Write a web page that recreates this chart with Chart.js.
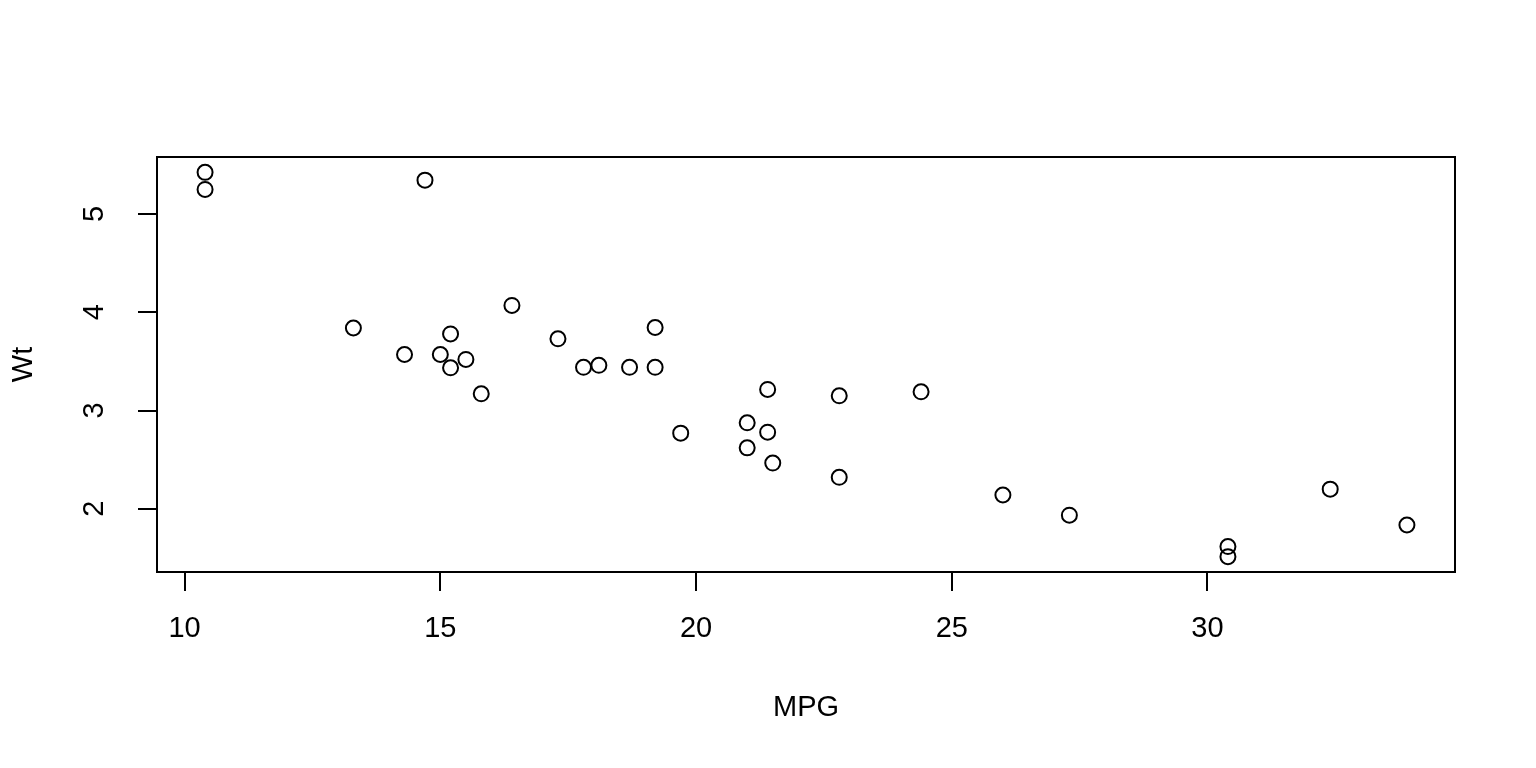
<!DOCTYPE html>
<html>
<head>
<meta charset="utf-8">
<script src="https://cdn.jsdelivr.net/npm/chart.js@4/dist/chart.umd.min.js"></script>
<style>
html, body { margin: 0; padding: 0; background: #fff; }
#wrap { width: 1536px; height: 768px; }
</style>
</head>
<body>
<div id="wrap"><canvas id="c" width="1536" height="768"></canvas></div>
<script>
// mtcars: mpg vs wt
const mpg = [21.0, 21.0, 22.8, 21.4, 18.7, 18.1, 14.3, 24.4, 22.8, 19.2, 17.8, 16.4, 17.3, 15.2, 10.4, 10.4,
             14.7, 32.4, 30.4, 33.9, 21.5, 15.5, 15.2, 13.3, 19.2, 27.3, 26.0, 30.4, 15.8, 19.7, 15.0, 21.4];
const wt = [2.620, 2.875, 2.320, 3.215, 3.440, 3.460, 3.570, 3.190, 3.150, 3.440, 3.440, 4.070, 3.730, 3.780, 5.250, 5.424,
            5.345, 2.200, 1.615, 1.835, 2.465, 3.520, 3.435, 3.840, 3.845, 1.935, 2.140, 1.513, 3.170, 2.770, 3.570, 2.780];
const xTicks = [10, 15, 20, 25, 30];
const yTicks = [2, 3, 4, 5];
const xLabel = "MPG";
const yLabel = "Wt";

// R style axis range: data range stretched 4% each side
function rRange(v) {
  const lo = Math.min(...v), hi = Math.max(...v);
  const d = (hi - lo) * 0.04;
  return [lo - d, hi + d];
}
const xr = rRange(mpg);
const yr = rRange(wt);

const points = mpg.map((m, i) => ({ x: m, y: wt[i] }));
const FONT = "'Liberation Sans', Arial, Helvetica, sans-serif";

// box round the plot + rotated y tick labels
const rBox = {
  id: 'rBox',
  afterDraw(chart) {
    const ctx = chart.ctx;
    const a = chart.chartArea;
    ctx.save();
    ctx.strokeStyle = '#000';
    ctx.lineWidth = 2;
    ctx.strokeRect(a.left, a.top, a.right - a.left, a.bottom - a.top);
    const ys = chart.scales.y;
    ctx.fillStyle = '#000';
    ctx.font = '29px ' + FONT;
    ctx.textAlign = 'center';
    ctx.textBaseline = 'alphabetic';
    ys.ticks.forEach(t => {
      const py = ys.getPixelForValue(t.value);
      ctx.save();
      ctx.translate(103, py);
      ctx.rotate(-Math.PI / 2);
      ctx.fillText(String(t.value), 0, 0);
      ctx.restore();
    });
    ctx.restore();
  }
};

new Chart(document.getElementById('c'), {
  type: 'scatter',
  data: {
    datasets: [{
      data: points,
      pointStyle: 'circle',
      pointRadius: 7.5,
      pointHoverRadius: 7.5,
      borderWidth: 2,
      borderColor: '#000',
      backgroundColor: 'rgba(0,0,0,0)'
    }]
  },
  options: {
    responsive: false,
    devicePixelRatio: 1,
    animation: false,
    layout: { padding: { top: 157, right: 81, left: 0, bottom: 0 } },
    plugins: { legend: { display: false }, tooltip: { enabled: false } },
    scales: {
      x: {
        type: 'linear',
        min: xr[0],
        max: xr[1],
        afterBuildTicks: s => { s.ticks = xTicks.map(v => ({ value: v })); },
        afterFit: s => { s.height = 196; },
        border: { display: false },
        grid: { drawOnChartArea: false, drawTicks: true, tickLength: 19, color: '#000', lineWidth: 2 },
        ticks: { color: '#000', font: { family: FONT, size: 29 }, padding: 21, maxRotation: 0 },
        title: { display: true, text: xLabel, color: '#000', font: { family: FONT, size: 29 }, padding: { top: 0, bottom: 43 } }
      },
      y: {
        type: 'linear',
        min: yr[0],
        max: yr[1],
        afterBuildTicks: s => { s.ticks = yTicks.map(v => ({ value: v })); },
        afterFit: s => { s.width = 157; },
        border: { display: false },
        grid: { drawOnChartArea: false, drawTicks: true, tickLength: 19, color: '#000', lineWidth: 2 },
        ticks: { display: false },
        title: { display: true, text: yLabel, color: '#000', font: { family: FONT, size: 29 }, padding: { top: 7, bottom: 0 } }
      }
    }
  },
  plugins: [rBox]
});
</script>
</body>
</html>
